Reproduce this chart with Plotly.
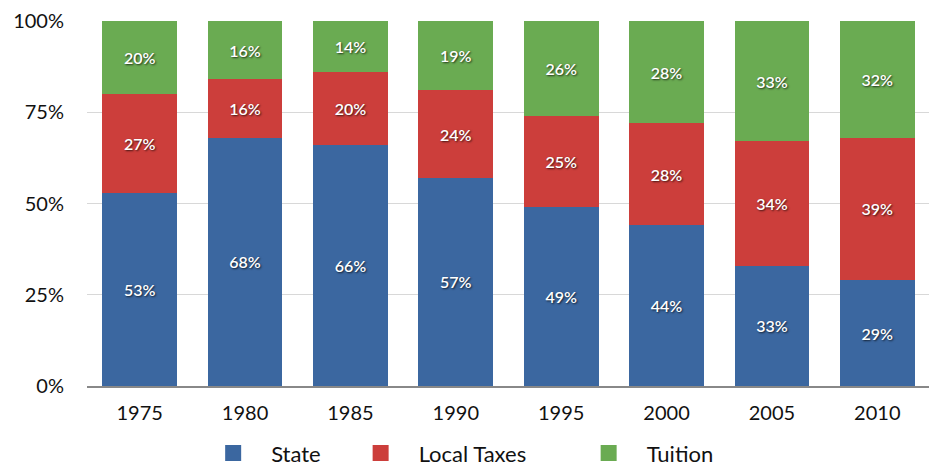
import plotly.graph_objects as go

years = ["1975", "1980", "1985", "1990", "1995", "2000", "2005", "2010"]
state = [53, 68, 66, 57, 49, 44, 33, 29]
local_taxes = [27, 16, 20, 24, 25, 28, 34, 39]
tuition = [20, 16, 14, 19, 26, 28, 33, 32]
y_ticks = [0, 25, 50, 75, 100]
y_tick_labels = ["0%", "25%", "50%", "75%", "100%"]

series = [
    ("State", state, "#3b67a0"),
    ("Local Taxes", local_taxes, "#cc3e3b"),
    ("Tuition", tuition, "#6aab52"),
]

FONT = "Lato, 'Open Sans', sans-serif"
PAD = {"State": 3, "Local Taxes": 7, "Tuition": 0}

fig = go.Figure()
for name, vals, color in series:
    fig.add_trace(go.Bar(
        x=years, y=vals, name=name, showlegend=False,
        marker=dict(color=color, line=dict(width=0)),
        text=[f"{v}%" for v in vals],
        textposition="inside",
        insidetextanchor="middle",
        textangle=0,
        textfont=dict(color="white", size=16, family=FONT, weight=600,
                      shadow="1px 1px 2px rgba(0,0,0,0.7)"),
        hoverinfo="skip",
    ))

# legend-only entries with larger square swatches
for name, vals, color in series:
    fig.add_trace(go.Scatter(
        x=[None], y=[None], mode="markers",
        name=name + "\u00a0" * PAD[name],
        marker=dict(symbol="square", size=24, color=color),
        hoverinfo="skip",
    ))

# page body has an 8px margin, so the figure is sized to fit the window
fig.update_layout(
    barmode="stack",
    bargap=0.29,
    width=929, height=459,
    margin=dict(l=79, r=7, t=13, b=81, autoexpand=False),
    paper_bgcolor="white",
    plot_bgcolor="white",
    font=dict(family=FONT, color="#111111"),
    showlegend=True,
    legend=dict(orientation="h", x=0.4391, xanchor="center",
                yref="container", y=0.03, yanchor="middle",
                font=dict(size=22, color="#111111"), traceorder="normal",
                itemwidth=66, itemsizing="trace"),
    xaxis=dict(
        type="category",
        range=[-0.5, 7.5],
        tickfont=dict(size=20),
        showgrid=False,
        showline=True, linecolor="#888888", linewidth=2,
        ticks="", ticklabelstandoff=8,
        automargin=False,
    ),
    yaxis=dict(
        range=[0, 100],
        tickvals=y_ticks, ticktext=y_tick_labels,
        tickfont=dict(size=20),
        showgrid=True, gridcolor="#d8d8d8", gridwidth=1,
        zeroline=False,
        ticks="", ticklabelstandoff=22,
        automargin=False,
    ),
    uniformtext=dict(mode="show", minsize=10),
)

fig.write_html("out.html")
